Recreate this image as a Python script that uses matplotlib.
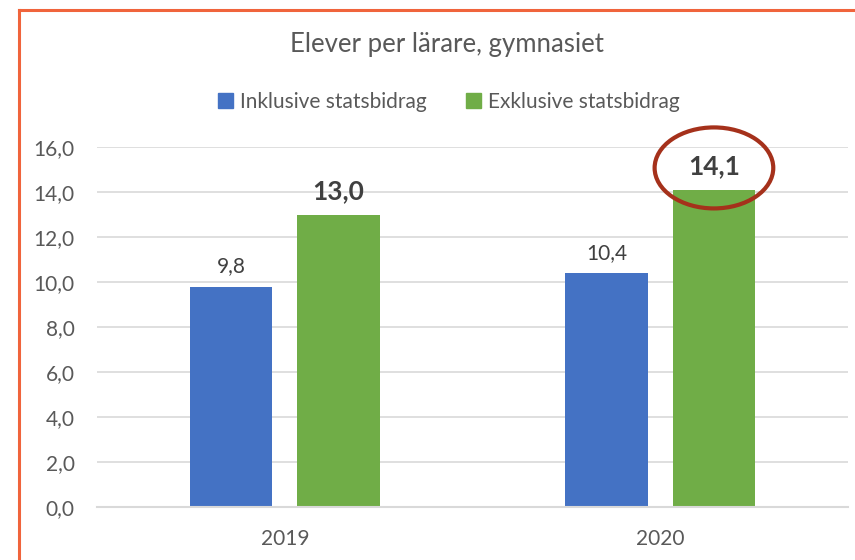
import numpy as np
import matplotlib.pyplot as plt
from matplotlib.patches import Ellipse
from matplotlib.lines import Line2D

plt.rcParams['font.family'] = ['Lato', 'DejaVu Sans']

# Data
years = ['2019', '2020']
inkl = [9.8, 10.4]
exkl = [13.0, 14.1]
series_names = ['Inklusive statsbidrag', 'Exklusive statsbidrag']

blue = '#4472C4'
green = '#70AD47'
text_col = '#595959'

fig = plt.figure(figsize=(8.55, 5.6), dpi=100)
ax = fig.add_axes([0.1135, 0.0946, 0.8783, 0.6429])

x = np.arange(len(years))
w = 0.22
off = 0.143
ax.bar(x - off, inkl, w, color=blue, label=series_names[0], zorder=2)
ax.bar(x + off, exkl, w, color=green, label=series_names[1], zorder=2)

# value labels
for xi, v in zip(x - off, inkl):
    ax.text(xi, v + 0.45, f'{v:.1f}'.replace('.', ','), ha='center', va='bottom',
            fontsize=15, color='#404040')
for xi, v in zip(x + off, exkl):
    ax.text(xi, v + 0.5, f'{v:.1f}'.replace('.', ','), ha='center', va='bottom',
            fontsize=19, fontweight='bold', color='#404040')

# highlight circle around 2020 label
ell = Ellipse((x[1] + off, 15.07), 0.316, 3.6, fill=False, edgecolor='#A5311B',
              linewidth=3, clip_on=False, zorder=5)
ax.add_patch(ell)

ax.set_xlim(-0.5, 1.5)
ax.set_ylim(0, 16)
ax.set_yticks(np.arange(0, 17, 2))
ax.set_yticklabels([f'{t:.1f}'.replace('.', ',') for t in np.arange(0, 17, 2)])
ax.set_xticks(x)
ax.set_xticklabels(years)
ax.tick_params(axis='both', length=0, labelsize=15, colors=text_col)
ax.tick_params(axis='y', pad=16)
ax.tick_params(axis='x', pad=16)
ax.yaxis.grid(True, color='#D9D9D9', linewidth=1.2, zorder=0)
ax.set_axisbelow(True)
for s in ['top', 'right', 'left']:
    ax.spines[s].set_visible(False)
ax.spines['bottom'].set_color('#D9D9D9')
ax.spines['bottom'].set_linewidth(1.5)

fig.text(0.523, 0.92, 'Elever per lärare, gymnasiet', ha='center', va='center',
         fontsize=18.5, color=text_col)

handles = [plt.Rectangle((0, 0), 1, 1, color=blue), plt.Rectangle((0, 0), 1, 1, color=green)]
fig.legend(handles, series_names, loc='center', bbox_to_anchor=(0.525, 0.818), ncol=2,
           frameon=False, fontsize=15, labelcolor=text_col, handlelength=0.7,
           handleheight=0.7, handletextpad=0.35, columnspacing=1.9)

# orange frame (cropped at right/bottom)
fig.add_artist(Line2D([0.0222, 0.0222], [0, 0.982], color='#F0643C', linewidth=2.2))
fig.add_artist(Line2D([0.0222, 1.0], [0.982, 0.982], color='#F0643C', linewidth=2.2))

fig.savefig('out.png', dpi=100)
